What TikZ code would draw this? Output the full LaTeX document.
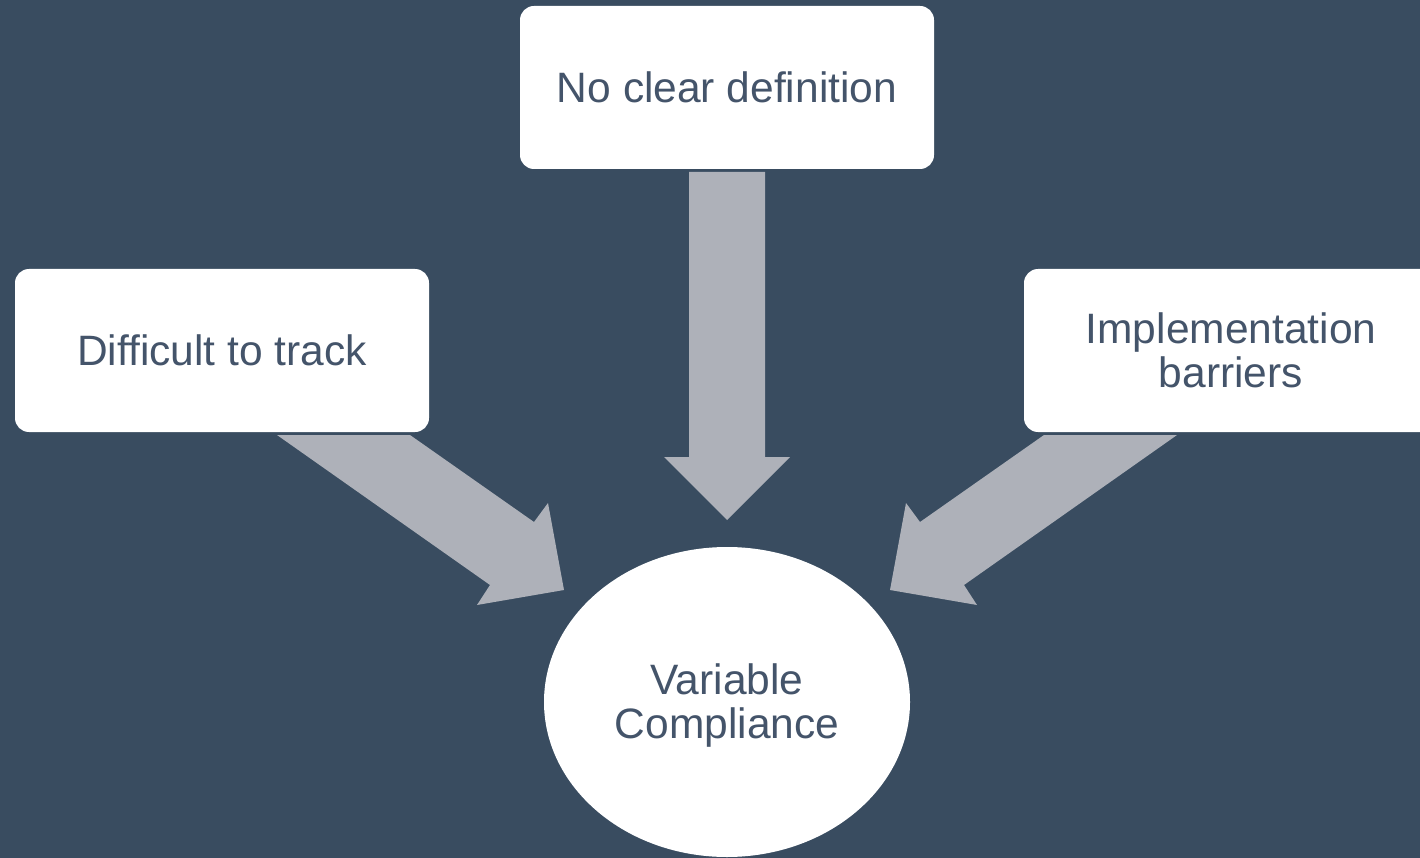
\documentclass[tikz,border=0pt]{standalone}
\usepackage{fontspec}
\setmainfont{Liberation Sans}
\usetikzlibrary{shapes.geometric}
\definecolor{bgc}{HTML}{394C60}
\definecolor{txc}{HTML}{44546A}
\definecolor{arc}{HTML}{AEB1B9}
\begin{document}
\begin{tikzpicture}[x=1pt,y=-1pt,
  box/.style={draw=none,fill=white,rounded corners=14pt,minimum width=414pt,minimum height=163pt,
    text=txc,font=\fontsize{42.5}{44}\selectfont,align=center,inner sep=0pt},
  lbl/.style={text=txc,font=\fontsize{42.5}{44}\selectfont,align=center,inner sep=0pt},
  blockarrow/.style={fill=arc,draw=none}]
\useasboundingbox (0,0) rectangle (1420,858);
\clip (0,0) rectangle (1420,858);
\fill[bgc] (0,0) rectangle (1420,858);
% nodes
\node[box] (top) at (727,87.5) {No clear definition};
\node[box] (left) at (222,350.5) {Difficult to track};
\node[box] (right) at (1231,350.5) {Implementation\\barriers};
\node[ellipse,fill=white,minimum width=366pt,minimum height=310pt,inner sep=0pt] (vc) at (727,702) {};
\node[lbl] (vctext) at (727,706) {Variable\\Compliance};
% block arrows
\fill[blockarrow] (689,172) -- (765,172) -- (765,457) -- (790,457) -- (727,520) -- (664,457) -- (689,457) -- cycle;
\fill[blockarrow] (277,435) -- (410,435) -- (534,522) -- (548,503) -- (564,590) -- (477,605) -- (490,585) -- cycle;
\fill[blockarrow] (1177,435) -- (1044,435) -- (920,522) -- (906,503) -- (890,590) -- (977,605) -- (964,585) -- cycle;
\end{tikzpicture}
\end{document}
